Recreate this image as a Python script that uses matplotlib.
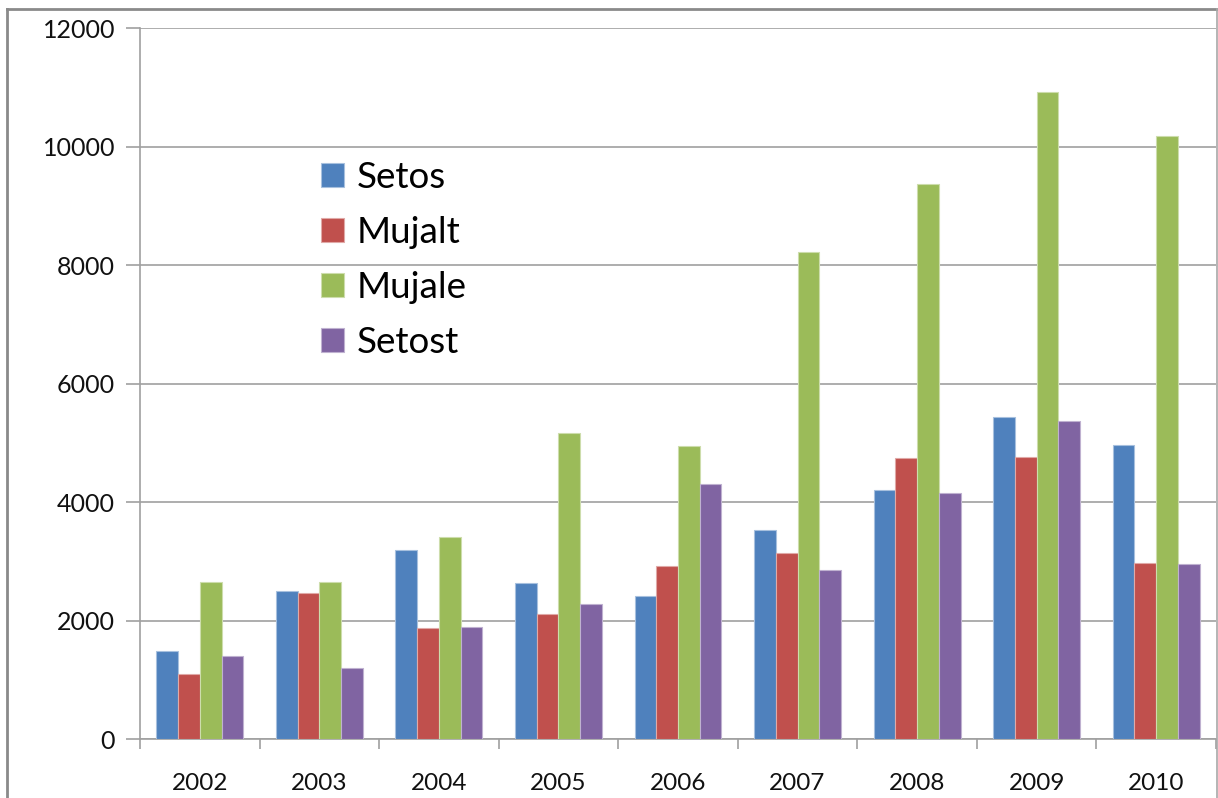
import matplotlib
matplotlib.use("Agg")
import matplotlib.pyplot as plt
from matplotlib.patches import Patch
from matplotlib.lines import Line2D
import numpy as np

years = ["2002", "2003", "2004", "2005", "2006", "2007", "2008", "2009", "2010"]
series_names = ["Setos", "Mujalt", "Mujale", "Setost"]
setos = [1490, 2510, 3200, 2640, 2420, 3530, 4200, 5430, 4960]
mujalt = [1110, 2470, 1880, 2120, 2930, 3140, 4740, 4760, 2970]
mujale = [2650, 2650, 3420, 5170, 4950, 8220, 9370, 10920, 10170]
setost = [1410, 1210, 1890, 2280, 4300, 2860, 4160, 5370, 2950]
y_ticks = [0, 2000, 4000, 6000, 8000, 10000, 12000]

colors = ["#4F81BD", "#C0504D", "#9BBB59", "#8064A2"]
edges = ["#A7C0DE", "#E0A9A7", "#CDDDAC", "#BFB1D0"]
grid_color = "#A0A0A0"

plt.rcParams["font.family"] = ["Lato", "DejaVu Sans"]

W, H = 1218, 798
fig = plt.figure(figsize=(W / 100, H / 100), dpi=100)
left, right, top, bottom = 140, 1216, 28, 739.3
ax = fig.add_axes([left / W, 1 - bottom / H, (right - left) / W, (bottom - top) / H])

n = len(years)
x = np.arange(n)
bw = 1 / 5.5
data = [setos, mujalt, mujale, setost]
for i, (vals, c, ec) in enumerate(zip(data, colors, edges)):
    ax.bar(x + (i - 1.5) * bw, vals, width=bw, color=c, edgecolor=ec,
           linewidth=0.8, label=series_names[i], zorder=3)

ax.set_xlim(-0.5, n - 0.5)
ax.set_ylim(0, 12000)
ax.set_yticks(y_ticks)
ax.set_yticklabels([str(v) for v in y_ticks])
ax.yaxis.grid(True, color=grid_color, linewidth=1.2, zorder=0)
ax.set_axisbelow(True)

ax.set_xticks(x)
ax.set_xticklabels(years)
ax.set_xticks(np.arange(-0.5, n, 1.0), minor=True)
ax.tick_params(axis="x", which="major", length=0, pad=24, labelsize=17.5, colors="#111111")
ax.tick_params(axis="x", which="minor", length=7, width=1.2, color=grid_color)
ax.tick_params(axis="y", length=10, width=1.2, color=grid_color, pad=8,
               labelsize=18, labelcolor="#111111")

for side in ["top", "right"]:
    ax.spines[side].set_visible(False)
for side in ["left", "bottom"]:
    ax.spines[side].set_color(grid_color)
    ax.spines[side].set_linewidth(1.2)

handles = [Patch(facecolor=c, edgecolor=ec, linewidth=0.8) for c, ec in zip(colors, edges)]
leg = fig.legend(handles, series_names, loc="upper left",
                 bbox_to_anchor=(321 / W, 1 - 161 / H), frameon=False,
                 fontsize=26.5, handlelength=0.625, handleheight=0.625,
                 handletextpad=0.35, labelspacing=0.6, borderpad=0, borderaxespad=0)

# outer chart frame
fig.add_artist(Line2D([7 / W, 1217 / W], [1 - 9 / H, 1 - 9 / H], transform=fig.transFigure,
                      color="#8A8A8A", linewidth=2.0))
fig.add_artist(Line2D([7 / W, 7 / W], [1 - 9 / H, 0], transform=fig.transFigure,
                      color="#8A8A8A", linewidth=2.0))
fig.add_artist(Line2D([1217 / W, 1217 / W], [1 - 9 / H, 0], transform=fig.transFigure,
                      color="#A8A8A8", linewidth=1.2))

fig.savefig("out.png", dpi=100)
